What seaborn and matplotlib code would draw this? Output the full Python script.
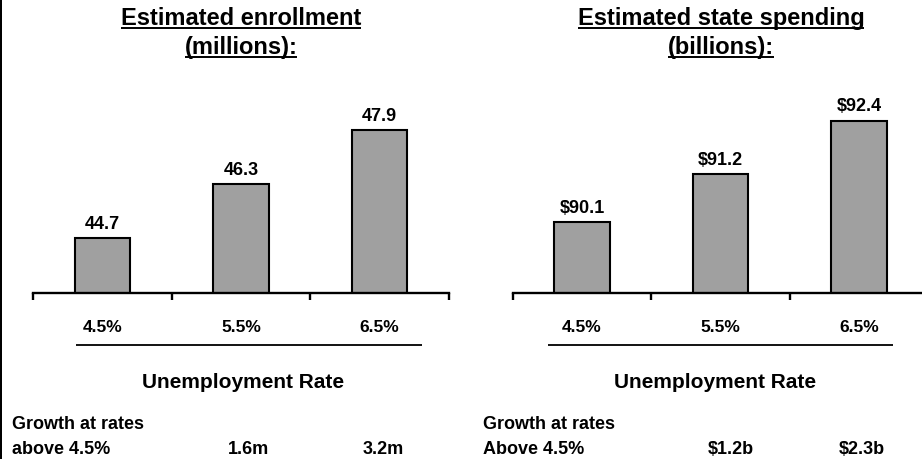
import matplotlib
matplotlib.use("Agg")
import matplotlib.pyplot as plt
from matplotlib.lines import Line2D
from matplotlib.patches import Rectangle
import seaborn as sns
import pandas as pd

# ---- data -------------------------------------------------------------
rates = ["4.5%", "5.5%", "6.5%"]
enrollment = [44.7, 46.3, 47.9]          # millions
spending = [90.1, 91.2, 92.4]            # billions
enroll_labels = ["44.7", "46.3", "47.9"]
spend_labels = ["$90.1", "$91.2", "$92.4"]
enroll_title = ["Estimated enrollment", "(millions):"]
spend_title = ["Estimated state spending", "(billions):"]
growth_caption_left = ["Growth at rates", "above 4.5%"]
growth_caption_right = ["Growth at rates", "Above 4.5%"]
enroll_growth = ["1.6m", "3.2m"]
spend_growth = ["$1.2b", "$2.3b"]
xlabel = "Unemployment Rate"

# ---- style ------------------------------------------------------------
sns.set_theme(style="white")
plt.rcParams["font.family"] = ["Liberation Sans", "DejaVu Sans"]
plt.rcParams["font.weight"] = "bold"

W, H = 922, 460
fig = plt.figure(figsize=(W / 100, H / 100), dpi=100)
fig.patch.set_facecolor("white")


def fx(px):
    return px / W


def fy(py):
    return 1 - py / H


BAR = "#a0a0a0"


def panel(left_px, width_px, values, labels, ylim, label_x, under):
    base = 294.3
    height_px = 233.9
    ax = fig.add_axes([fx(left_px), fy(base), width_px / W, height_px / H])
    df = pd.DataFrame({"rate": rates, "value": values})
    sns.barplot(data=df, x="rate", y="value", ax=ax, color=BAR, saturation=1,
                width=0.4, edgecolor="black", linewidth=1.5)
    ax.set_xlim(-0.5, 2.5)
    ax.set_ylim(*ylim)
    for s in ["top", "left", "right"]:
        ax.spines[s].set_visible(False)
    ax.spines["bottom"].set_linewidth(1.7)
    ax.spines["bottom"].set_color("black")
    ax.set_yticks([])
    ax.set_ylabel("")
    ax.set_xticks(range(len(rates)))
    ax.set_xticklabels(rates, fontsize=12.5, fontweight="bold")
    ax.set_xticks([-0.5, 0.5, 1.5, 2.5], minor=True)
    ax.tick_params(axis="x", which="major", length=0, pad=18.5, colors="black")
    ax.tick_params(axis="x", which="minor", bottom=True, direction="out",
                   length=5, width=1.7, color="black")
    ax.set_xlabel(xlabel, fontsize=15, fontweight="bold", color="black")
    ax.xaxis.set_label_coords(label_x, (base - 388.3) / height_px)
    ax.xaxis.label.set_va("baseline")
    # value labels above each bar
    for i, (v, t) in enumerate(zip(values, labels)):
        ax.annotate(t, (i, v), xytext=(0, 7.3), textcoords="offset points",
                    ha="center", va="baseline", fontsize=13,
                    fontweight="bold", color="black")
    # rule under the rate labels
    ax.plot(under, [(base - 346) / height_px] * 2, color="black", lw=1.3,
            transform=ax.get_xaxis_transform(), clip_on=False,
            solid_capstyle="butt")
    return ax


panel(33, 416, enrollment, enroll_labels, (43.05, 43.05 + 233.9 / 33.66),
      (243 - 33) / 416, [-0.19, 2.303])
panel(512.7, 415.5, spending, spend_labels, (88.5, 88.5 + 233.9 / 44.3),
      (715 - 512.7) / 415.5, [-0.247, 2.248])

# ---- underlined titles --------------------------------------------------
renderer = fig.canvas.get_renderer()


def underlined(lines, cx):
    for text, base in zip(lines, [25, 54]):
        t = fig.text(fx(cx), fy(base), text, ha="center", va="baseline",
                     fontsize=17, fontweight="bold", color="black")
        bb = t.get_window_extent(renderer)
        y = fy(base + 4)
        fig.add_artist(Line2D([bb.x0 / W, bb.x1 / W], [y, y], color="black",
                              lw=1.4, solid_capstyle="butt"))


underlined(enroll_title, 241)
underlined(spend_title, 721)

# ---- growth notes -------------------------------------------------------
for x0, caption, vals, xs in [
    (12, growth_caption_left, enroll_growth, [248, 383]),
    (483, growth_caption_right, spend_growth, [731, 862]),
]:
    fig.text(fx(x0), fy(429), caption[0], ha="left", va="baseline",
             fontsize=13, fontweight="bold", color="black")
    fig.text(fx(x0), fy(454), caption[1], ha="left", va="baseline",
             fontsize=13, fontweight="bold", color="black")
    for v, x in zip(vals, xs):
        fig.text(fx(x), fy(454), v, ha="center", va="baseline",
                 fontsize=13, fontweight="bold", color="black")

# left frame edge
fig.add_artist(Rectangle((0, 0), 2.2 / W, 1, transform=fig.transFigure,
                         facecolor="black", edgecolor="none"))

fig.savefig("out.png", dpi=100)
